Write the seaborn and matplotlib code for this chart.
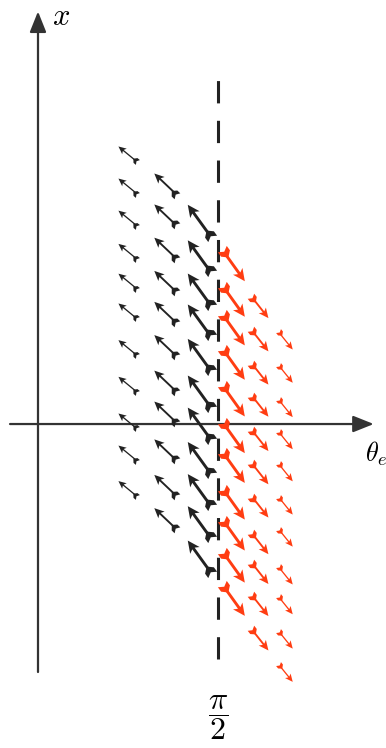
import numpy as np
import matplotlib
matplotlib.use("Agg")
import matplotlib.pyplot as plt
from matplotlib.path import Path
import seaborn as sns

# ---- data (theta_e in rad, x) : tail positions and arrow vectors per column ----
black_theta = [0.85, 1.19, 1.49]
black_x = [
    [2.30, 2.02, 1.74, 1.45, 1.19, 0.93, 0.61, 0.29, -0.03, -0.31, -0.62],
    [2.02, 1.75, 1.46, 1.17, 0.90, 0.61, 0.30, 0.03, -0.30, -0.61, -0.90],
    [1.66, 1.35, 1.06, 0.79, 0.49, 0.17, -0.11, -0.41, -0.69, -0.97, -1.27],
]
black_u = [-0.148, -0.175, -0.183]
black_v = [0.122, 0.166, 0.253]

red_theta = [1.63, 1.88, 2.11]
red_x = [
    [1.49, 1.18, 0.93, 0.63, 0.31, -0.01, -0.27, -0.59, -0.86, -1.14, -1.43],
    [1.09, 0.80, 0.51, 0.23, -0.07, -0.36, -0.65, -0.97, -1.23, -1.51, -1.81],
    [0.79, 0.50, 0.20, -0.08, -0.36, -0.65, -0.93, -1.26, -1.52, -1.82, -2.11],
]
red_u = [0.175, 0.131, 0.113]
red_v = [-0.244, -0.166, -0.140]

boundary = np.pi / 2
axis_labels = ["$x$", r"$\theta_e$", r"$\dfrac{\pi}{2}$"]

# ---- styling ----
sns.set_theme(style="white")
plt.rcParams["mathtext.fontset"] = "cm"
BLACK = "#222222"
RED = "#ff3d12"
# (shaft width px, head width, head length, fletch size)
styles = {"thin": (1.3, 5.5, 6.0, 40), "mid": (1.9, 4.8, 5.2, 70), "thick": (2.9, 4.0, 4.2, 120)}
black_styles = ["thin", "mid", "thick"]
red_styles = ["thick", "mid", "thin"]

fig = plt.figure(figsize=(3.86, 7.48), dpi=100)
ax = fig.add_axes([0, 0, 1, 1])
ax.set_xlim(-0.3316, 3.037)
ax.set_ylim(-2.827, 3.700)
ax.axis("off")

# axes with arrows
ax.annotate("", xy=(2.93, 0), xytext=(-0.244, 0),
            arrowprops=dict(arrowstyle="-|>,head_length=0.7,head_width=0.28",
                            color="#333333", lw=1.6, mutation_scale=18, shrinkA=0, shrinkB=0))
ax.annotate("", xy=(0, 3.60), xytext=(0, -2.164),
            arrowprops=dict(arrowstyle="-|>,head_length=0.7,head_width=0.28",
                            color="#333333", lw=1.6, mutation_scale=18, shrinkA=0, shrinkB=0))

# dashed boundary line
ax.plot([boundary, boundary], [-2.05, 3.05], color=BLACK, lw=2.2,
        dashes=(7.3, 5.7), zorder=2)


def fletch_path(u, v):
    ang = np.arctan2(v, u)
    pts = np.array([(0.45, 0), (0.0, 0.5), (-0.5, 0.5), (-0.2, 0),
                    (-0.5, -0.5), (0.0, -0.5), (0.45, 0)])
    c, s = np.cos(ang), np.sin(ang)
    rot = np.column_stack([pts[:, 0] * c - pts[:, 1] * s, pts[:, 0] * s + pts[:, 1] * c])
    codes = [Path.MOVETO] + [Path.LINETO] * (len(rot) - 2) + [Path.CLOSEPOLY]
    return Path(rot, codes)


def draw_column(theta, xs, u, v, color, style):
    w, hw, hl, fs = styles[style]
    th = np.full(len(xs), theta)
    xs = np.asarray(xs)
    ax.quiver(th, xs, np.full(len(xs), u), np.full(len(xs), v), color=color,
              angles="xy", scale_units="xy", scale=1, units="dots", width=w,
              headwidth=hw, headlength=hl, headaxislength=hl * 0.8, zorder=3)
    sns.scatterplot(x=th, y=xs, marker=fletch_path(u, v), s=fs, color=color,
                    linewidth=0, ax=ax, zorder=4, legend=False)


for t, xs, u, v, st in zip(black_theta, black_x, black_u, black_v, black_styles):
    draw_column(t, xs, u, v, BLACK, st)
for t, xs, u, v, st in zip(red_theta, red_x, red_u, red_v, red_styles):
    draw_column(t, xs, u, v, RED, st)

ax.text(0.122, 3.48, axis_labels[0], fontsize=22, ha="left", va="baseline", color="black")
ax.text(2.85, -0.33, axis_labels[1], fontsize=19, ha="left", va="baseline", color="black")
ax.text(boundary, -2.56, axis_labels[2], fontsize=23, ha="center", va="center", color="black")

fig.savefig("out.png", dpi=100)
